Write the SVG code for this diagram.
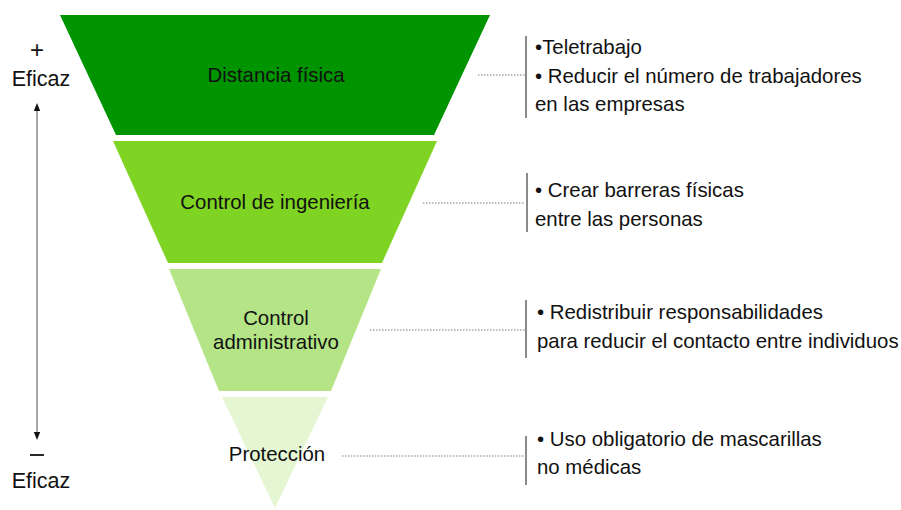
<svg xmlns="http://www.w3.org/2000/svg" width="901" height="510" viewBox="0 0 901 510">
<defs>
<style>
text{font-family:"Liberation Sans",Arial,sans-serif;font-size:20.4px;fill:#111}
.c{text-anchor:middle}
.big{font-size:21.5px}
.dot{stroke:#a8a8a8;stroke-width:1.5;stroke-dasharray:1.5 1.5;fill:none}
.bar{stroke:#8a8a8a;stroke-width:2;fill:none}
</style>
<marker id="ah" viewBox="0 0 10 10" refX="5" refY="5" markerWidth="4" markerHeight="4" orient="auto-start-reverse">
<path d="M0,1 L10,5 L0,9 Z" fill="#111"/>
</marker>
</defs>
<rect width="901" height="510" fill="#fff"/>
<g id="band1">
<polygon points="60,15 490,15 434,135 116,135" fill="#009400"/>
<text class="c" x="276" y="82">Distancia física</text>
</g>
<g id="band2">
<polygon points="113,141 437,141 382,263 168,263" fill="#7fd322"/>
<text class="c" x="275" y="209">Control de ingeniería</text>
</g>
<g id="band3">
<polygon points="169,269 381,269 331,391 219,391" fill="#b4e486"/>
<text class="c" x="276" y="325">Control</text>
<text class="c" x="276" y="349">administrativo</text>
</g>
<g id="band4">
<polygon points="222,397 328,397 275,508" fill="#e4f6d2"/>
<text class="c" x="277" y="461">Protección</text>
</g>
<g id="scale">
<text class="c" x="37" y="58" style="font-size:24px">+</text>
<text class="c big" x="41" y="86">Eficaz</text>
<line x1="37" y1="107" x2="37" y2="436" stroke="#a8a8a8" stroke-width="2" marker-start="url(#ah)" marker-end="url(#ah)"/>
<line x1="30" y1="455" x2="44" y2="455" stroke="#111" stroke-width="1.8"/>
<text class="c big" x="41" y="488">Eficaz</text>
</g>
<g id="connectors">
<line class="dot" x1="478" y1="75" x2="525" y2="75"/>
<line class="dot" x1="423" y1="203" x2="525" y2="203"/>
<line class="dot" x1="370" y1="330" x2="525" y2="330"/>
<line class="dot" x1="342" y1="456" x2="525" y2="456"/>
</g>
<g id="note1">
<line class="bar" x1="526" y1="36" x2="526" y2="118"/>
<text x="535" y="54">•Teletrabajo</text>
<text x="535" y="83">• Reducir el número de trabajadores</text>
<text x="535" y="111">en las empresas</text>
</g>
<g id="note2">
<line class="bar" x1="527" y1="173" x2="527" y2="232"/>
<text x="535" y="197">• Crear barreras físicas</text>
<text x="535" y="226">entre las personas</text>
</g>
<g id="note3">
<line class="bar" x1="526" y1="300" x2="526" y2="358"/>
<text x="537" y="319">• Redistribuir responsabilidades</text>
<text x="537" y="348">para reducir el contacto entre individuos</text>
</g>
<g id="note4">
<line class="bar" x1="526" y1="436" x2="526" y2="485"/>
<text x="537" y="446">• Uso obligatorio de mascarillas</text>
<text x="537" y="474">no médicas</text>
</g>
</svg>
